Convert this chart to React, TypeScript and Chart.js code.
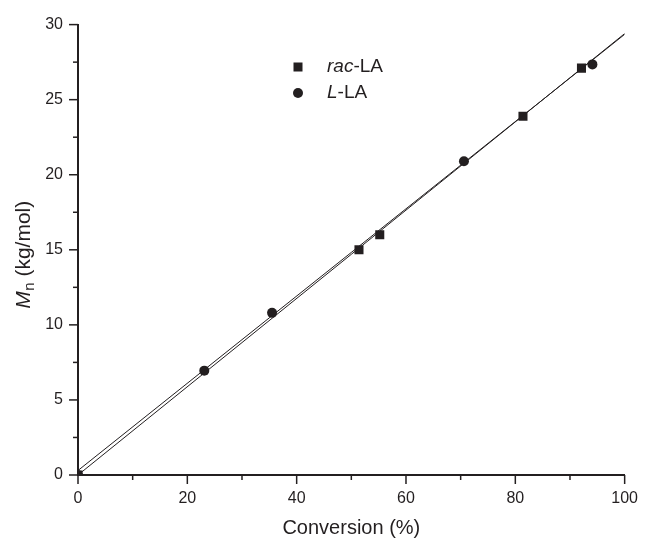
import React, { useEffect, useRef } from 'react';
import { Chart, registerables } from 'chart.js';

Chart.register(...registerables);

// ---- data ----
const racX = [0, 51.4, 55.2, 81.4, 92.1];
const racY = [0, 15.0, 16.0, 23.9, 27.1];
const lX = [0, 23.1, 35.5, 70.6, 94.1];
const lY = [0, 6.95, 10.8, 20.9, 27.35];
const racFitX = [0, 100];
const racFitY = [0, 29.4];
const lFitX = [0, 100];
const lFitY = [0.3, 29.35];
const xMajorStep = 20;
const yMajorStep = 5;
const legendNames = [
  { italic: 'rac', rest: '-LA' },
  { italic: 'L', rest: '-LA' },
];
const xTitle = 'Conversion (%)';
const yTitleMain = 'M';
const yTitleSub = 'n';
const yTitleRest = ' (kg/mol)';

const INK = '#231f20';
const FONT = '"Liberation Sans", Arial, Helvetica, sans-serif';

const toPts = (xs: number[], ys: number[]) => xs.map((x, i) => ({ x, y: ys[i] }));

const decorPlugin = {
  id: 'decor',
  afterDraw(chart: any) {
    const ctx: CanvasRenderingContext2D = chart.ctx;
    const xs = chart.scales.x;
    const ys = chart.scales.y;
    const ca = chart.chartArea;
    ctx.save();
    ctx.strokeStyle = INK;
    ctx.lineWidth = 1.5;
    xs.ticks.forEach((t: any) => {
      const major = Math.abs(t.value % xMajorStep) < 1e-6;
      const px = xs.getPixelForValue(t.value);
      ctx.beginPath();
      ctx.moveTo(px, ca.bottom);
      ctx.lineTo(px, ca.bottom + (major ? 9 : 5));
      ctx.stroke();
    });
    ys.ticks.forEach((t: any) => {
      const major = Math.abs(t.value % yMajorStep) < 1e-6;
      const py = ys.getPixelForValue(t.value);
      ctx.beginPath();
      ctx.moveTo(ca.left, py);
      ctx.lineTo(ca.left - (major ? 9 : 5), py);
      ctx.stroke();
    });

    // legend
    const lgX = 298;
    const lgY = [67, 93];
    const txtX = 327;
    ctx.fillStyle = INK;
    ctx.fillRect(lgX - 4.5, lgY[0] - 4.5, 9, 9);
    ctx.beginPath();
    ctx.arc(lgX, lgY[1], 5, 0, Math.PI * 2);
    ctx.fill();
    ctx.textBaseline = 'middle';
    ctx.textAlign = 'left';
    legendNames.forEach((n, i) => {
      ctx.font = `italic 19px ${FONT}`;
      ctx.fillText(n.italic, txtX, lgY[i]);
      const w = ctx.measureText(n.italic).width;
      ctx.font = `19px ${FONT}`;
      ctx.fillText(n.rest, txtX + w, lgY[i]);
    });

    // y title
    ctx.save();
    ctx.translate(24, 255);
    ctx.rotate(-Math.PI / 2);
    ctx.textBaseline = 'middle';
    ctx.font = `italic 21px ${FONT}`;
    const wM = ctx.measureText(yTitleMain).width;
    ctx.font = `15px ${FONT}`;
    const wN = ctx.measureText(yTitleSub).width;
    ctx.font = `21px ${FONT}`;
    const wR = ctx.measureText(yTitleRest).width;
    let x0 = -(wM + wN + wR) / 2;
    ctx.font = `italic 21px ${FONT}`;
    ctx.fillText(yTitleMain, x0, 0);
    x0 += wM + 0.5;
    ctx.font = `15px ${FONT}`;
    ctx.fillText(yTitleSub, x0, 6);
    x0 += wN;
    ctx.font = `21px ${FONT}`;
    ctx.fillText(yTitleRest, x0, 0);
    ctx.restore();

    ctx.restore();
  },
};

export default function App() {
  const ref = useRef<HTMLCanvasElement>(null);
  useEffect(() => {
    if (!ref.current) return;
    const chart = new Chart(ref.current, {
      type: 'scatter',
      data: {
        datasets: [
          {
            label: 'rac-LA fit',
            data: toPts(racFitX, racFitY),
            showLine: true,
            borderColor: INK,
            borderWidth: 1,
            pointRadius: 0,
            clip: 0,
          },
          {
            label: 'L-LA fit',
            data: toPts(lFitX, lFitY),
            showLine: true,
            borderColor: INK,
            borderWidth: 1,
            pointRadius: 0,
            clip: 0,
          },
          {
            label: 'rac-LA',
            data: toPts(racX, racY),
            pointStyle: 'rect',
            pointRadius: 6.4,
            backgroundColor: INK,
            borderColor: INK,
            borderWidth: 0,
            clip: 0,
          },
          {
            label: 'L-LA',
            data: toPts(lX, lY),
            pointStyle: 'circle',
            pointRadius: 5,
            backgroundColor: INK,
            borderColor: INK,
            borderWidth: 0,
            clip: 0,
          },
        ],
      },
      options: {
        responsive: false,
        animation: false,
        events: [],
        layout: { padding: { top: 19, right: 16, left: 0, bottom: 0 } },
        plugins: { legend: { display: false }, tooltip: { enabled: false } },
        scales: {
          x: {
            type: 'linear',
            min: 0,
            max: 100,
            grid: { display: false, drawTicks: false },
            border: { display: true, color: INK, width: 2 },
            ticks: {
              stepSize: 10,
              autoSkip: false,
              maxRotation: 0,
              padding: 14,
              color: INK,
              font: { family: FONT, size: 16 },
              callback: (v: any) => (Math.abs(Number(v) % xMajorStep) < 1e-6 ? String(v) : ''),
            },
            title: {
              display: true,
              text: xTitle,
              color: INK,
              font: { family: FONT, size: 20 },
              padding: { top: 0, bottom: 0 },
            },
            afterFit: (s: any) => {
              s.height = 65;
            },
          },
          y: {
            type: 'linear',
            min: 0,
            max: 30,
            grid: { display: false, drawTicks: false },
            border: { display: true, color: INK, width: 2 },
            ticks: {
              stepSize: 2.5,
              autoSkip: false,
              padding: 15,
              color: INK,
              font: { family: FONT, size: 16 },
              callback: (v: any) => (Math.abs(Number(v) % yMajorStep) < 1e-6 ? String(v) : ''),
            },
            afterFit: (s: any) => {
              s.width = 78;
            },
          },
        },
      },
      plugins: [decorPlugin],
    });
    return () => chart.destroy();
  }, []);
  return (
    <div style={{ position: 'fixed', left: 0, top: 0, width: 652, height: 540, background: '#fff' }}>
      <canvas ref={ref} width={652} height={540} />
    </div>
  );
}
